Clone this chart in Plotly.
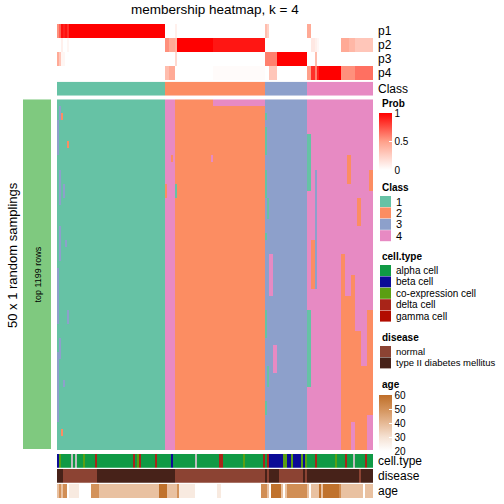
import plotly.graph_objects as go

W = H = 504
N = 158  # number of samples (columns)

# ---------------- data ----------------
class_runs = [(1, 54), (2, 50), (3, 21), (4, 33)]          # (class, n columns)

# membership probabilities as runs of (value, n columns)
p1_runs = [(0.55, 1), (0.7, 1), (0.95, 1), (0.9, 1), (0.95, 1), (0.85, 1), (1.0, 48),
           (0, 5), (0.08, 1), (0, 44),
           (0.35, 1), (0.25, 1), (0, 19),
           (0.45, 2), (0, 31)]
p2_runs = [(0, 2), (0.08, 1), (0, 2), (0.05, 1), (0, 48),
           (0.55, 2), (0.45, 3), (0.4, 1), (1.0, 18), (0.93, 26),
           (0, 21),
           (0, 2), (0.12, 2), (0.08, 1), (0.04, 1), (0, 11), (0.45, 4), (0.38, 3), (0.3, 9)]
p3_runs = [(0.45, 1), (0.3, 1), (0.05, 2), (0, 50),
           (0, 5), (0.2, 1), (0, 44),
           (0.6, 6), (1.0, 15),
           (0, 4), (0.35, 1), (0, 28)]
p4_runs = [(0, 54),
           (0.35, 2), (0.45, 3), (0, 19), (0.02, 26),
           (0, 2), (0.3, 4), (0, 15),
           (0.5, 2), (0.85, 2), (0.6, 1), (0.9, 1), (1.0, 11), (0.55, 7), (0.65, 9)]

# deviations of single samplings from the consensus class:
# (first col, last col, first row, last row, class)
deviations = [
    (0, 0, 3, 7, 3), (0, 0, 24, 26, 3), (0, 0, 27, 31, 3), (0, 0, 36, 45, 3),
    (1, 1, 1, 2, 3), (1, 1, 10, 14, 3), (1, 1, 18, 22, 3), (1, 1, 34, 36, 3),
    (2, 2, 2, 2, 2), (2, 2, 47, 47, 2), (3, 3, 12, 13, 3), (3, 3, 40, 40, 3),
    (4, 4, 20, 20, 3), (5, 5, 6, 6, 2), (5, 5, 30, 31, 3),
    (54, 58, 0, 49, 4), (78, 103, 0, 0, 4), (77, 77, 8, 8, 4),
    (57, 57, 8, 8, 2), (54, 54, 12, 13, 2), (59, 59, 12, 13, 1),
    (104, 104, 2, 2, 1), (104, 104, 4, 7, 1), (104, 104, 10, 13, 1), (104, 104, 19, 19, 1),
    (104, 104, 30, 33, 1), (104, 104, 43, 44, 1), (105, 105, 14, 16, 1), (105, 105, 38, 40, 1),
    (106, 107, 22, 27, 4), (108, 109, 35, 38, 4),
    (125, 126, 5, 12, 1), (125, 126, 30, 40, 1), (127, 128, 20, 26, 2), (129, 129, 10, 26, 3),
    (142, 143, 22, 49, 2), (144, 146, 28, 49, 2), (147, 148, 25, 45, 2),
    (149, 151, 33, 49, 2), (152, 154, 38, 49, 2), (155, 157, 30, 44, 2),
    (145, 146, 8, 11, 2), (150, 151, 14, 17, 2), (156, 157, 10, 12, 2),
]

# column annotations as runs (category/value, n columns)
celltype_names = ["alpha cell", "beta cell", "co-expression cell", "delta cell", "gamma cell", "NA"]
celltype_runs = [("beta cell", 1), ("co-expression cell", 1), ("alpha cell", 5), ("NA", 1),
                 ("alpha cell", 1), ("NA", 1), ("alpha cell", 3), ("co-expression cell", 1),
                 ("alpha cell", 5), ("delta cell", 1), ("alpha cell", 18), ("delta cell", 1),
                 ("alpha cell", 1), ("co-expression cell", 1), ("delta cell", 1),
                 ("alpha cell", 7), ("delta cell", 1), ("alpha cell", 7), ("beta cell", 1),
                 ("alpha cell", 11), ("NA", 1), ("alpha cell", 11), ("delta cell", 2),
                 ("alpha cell", 10), ("co-expression cell", 1), ("alpha cell", 9),
                 ("delta cell", 1), ("alpha cell", 1), ("delta cell", 1),
                 ("beta cell", 7), ("co-expression cell", 2), ("beta cell", 2),
                 ("co-expression cell", 1), ("beta cell", 4), ("co-expression cell", 1),
                 ("beta cell", 1), ("co-expression cell", 1), ("alpha cell", 4),
                 ("delta cell", 1), ("alpha cell", 9), ("co-expression cell", 1),
                 ("alpha cell", 4), ("delta cell", 1), ("alpha cell", 3), ("NA", 1),
                 ("alpha cell", 5), ("delta cell", 1), ("alpha cell", 3)]
disease_names = ["normal", "type II diabetes mellitus"]
disease_runs = [("type II diabetes mellitus", 3), ("normal", 17), ("type II diabetes mellitus", 39),
                ("normal", 45), ("type II diabetes mellitus", 1), ("normal", 1),
                ("type II diabetes mellitus", 5), ("normal", 12), ("type II diabetes mellitus", 1),
                ("normal", 1), ("type II diabetes mellitus", 26), ("normal", 1),
                ("type II diabetes mellitus", 6)]
age_runs = [(38, 1), (50, 1), (38, 1), (51, 2), (20, 1), (27, 5), (20, 6), (50, 4), (38, 30),
            (59, 4), (38, 5), (50, 1), (27, 8), (20, 11), (27, 2), (20, 20), (51, 3),
            (38, 1), (20, 1), (59, 5), (38, 1), (20, 1), (38, 1), (51, 10), (38, 1), (20, 1),
            (38, 4), (59, 1), (38, 1), (59, 8), (51, 1), (38, 11), (20, 1), (38, 6)]

row_labels = ["p1", "p2", "p3", "p4"]
class_labels = ["1", "2", "3", "4"]

# ---------------- colours ----------------
class_colors = ["#66C2A5", "#FC8D62", "#8DA0CB", "#E78AC3"]
celltype_colors = ["#109A45", "#0B0B96", "#5A9F12", "#A82418", "#B20C00", "#BEBEBE"]
disease_colors = ["#8C4333", "#472219"]
prob_scale = [[0, "#FFFFFF"], [0.5, "#FFA08A"], [1, "#FF0000"]]
age_scale = [[0, "#FFFFFF"], [0.25, "#F5E1D2"], [0.5, "#E6B995"], [0.75, "#D3925A"], [1, "#BE6E28"]]
FONT = "Liberation Sans, Arial, Helvetica, sans-serif"


def expand(runs):
    out = []
    for v, n in runs:
        out += [v] * n
    return out


def discrete_scale(colors):
    k = len(colors)
    sc = []
    for i, c in enumerate(colors):
        sc += [[i / k, c], [(i + 1) / k, c]]
    return sc


cls = expand(class_runs)
P = [expand(r) for r in (p1_runs, p2_runs, p3_runs, p4_runs)]
main = [[c for c in cls] for _ in range(50)]
for c0, c1, r0, r1, k in deviations:
    for r in range(r0, r1 + 1):
        for c in range(c0, c1 + 1):
            main[r][c] = k
ct = [celltype_names.index(v) for v in expand(celltype_runs)]
dz = [disease_names.index(v) for v in expand(disease_runs)]
ag = expand(age_runs)
xs = list(range(N))


def py(p):  # pixel y -> paper
    return 1 - p / H


def px(p):
    return p / W


X0, X1 = 57, 373
fig = go.Figure()

# probability rows
fig.add_trace(go.Heatmap(z=P, x=xs, y=[0, 1, 2, 3], colorscale=prob_scale, zmin=0, zmax=1,
                         xaxis="x", yaxis="y", hoverinfo="skip",
                         colorbar=dict(x=px(379), xanchor="left", y=py(113), yanchor="top",
                                       len=57, lenmode="pixels", thickness=13,
                                       thicknessmode="pixels", outlinewidth=0, xpad=0, ypad=0,
                                       tickvals=[0, 0.5, 1], ticktext=["0", "0.5", "1"],
                                       ticks="inside", ticklen=3, tickcolor="white",
                                       tickfont=dict(family=FONT, size=10, color="black"))))
# class row
fig.add_trace(go.Heatmap(z=[[c - 1 for c in cls]], x=xs, y=[0], colorscale=discrete_scale(class_colors),
                         zmin=-0.5, zmax=3.5, showscale=False, xaxis="x", yaxis="y2", hoverinfo="skip"))
# main membership matrix
fig.add_trace(go.Heatmap(z=[[c - 1 for c in row] for row in main], x=xs, y=list(range(50)),
                         colorscale=discrete_scale(class_colors), zmin=-0.5, zmax=3.5,
                         showscale=False, xaxis="x", yaxis="y3", hoverinfo="skip"))
# cell type
fig.add_trace(go.Heatmap(z=[ct], x=xs, y=[0], colorscale=discrete_scale(celltype_colors),
                         zmin=-0.5, zmax=len(celltype_colors) - 0.5, showscale=False,
                         xaxis="x", yaxis="y4", hoverinfo="skip"))
# disease
fig.add_trace(go.Heatmap(z=[dz], x=xs, y=[0], colorscale=discrete_scale(disease_colors),
                         zmin=-0.5, zmax=1.5, showscale=False, xaxis="x", yaxis="y5", hoverinfo="skip"))
# age
fig.add_trace(go.Heatmap(z=[ag], x=xs, y=[0], colorscale=age_scale, zmin=20, zmax=60,
                         xaxis="x", yaxis="y6", hoverinfo="skip",
                         colorbar=dict(x=px(379), xanchor="left", y=py(395), yanchor="top",
                                       len=56, lenmode="pixels", thickness=13,
                                       thicknessmode="pixels", outlinewidth=0, xpad=0, ypad=0,
                                       tickvals=[20, 30, 40, 50, 60], ticks="inside", ticklen=3,
                                       tickcolor="white",
                                       tickfont=dict(family=FONT, size=10, color="black"))))
# left row-slice bar
fig.add_trace(go.Heatmap(z=[[0]], x=[0], y=[0], colorscale=[[0, "#7FC97F"], [1, "#7FC97F"]],
                         showscale=False, xaxis="x2", yaxis="y7", hoverinfo="skip"))

ax = dict(visible=False, fixedrange=True)
lay = dict(
    width=W, height=H, margin=dict(l=0, r=0, t=0, b=0),
    paper_bgcolor="white", plot_bgcolor="rgba(0,0,0,0)", showlegend=False,
    xaxis=dict(ax, domain=[px(X0), px(X1)], range=[-0.5, N - 0.5]),
    xaxis2=dict(ax, domain=[px(23), px(51)], range=[-0.5, 0.5]),
    yaxis=dict(ax, domain=[py(80), py(24)], range=[3.5, -0.5]),
    yaxis2=dict(ax, domain=[py(95.7), py(81.7)], range=[0.5, -0.5]),
    yaxis3=dict(ax, domain=[py(450), py(99.3)], range=[49.5, -0.5]),
    yaxis4=dict(ax, domain=[py(467.7), py(454)], range=[0.5, -0.5]),
    yaxis5=dict(ax, domain=[py(482.8), py(469)], range=[0.5, -0.5]),
    yaxis6=dict(ax, domain=[py(498.3), py(484)], range=[0.5, -0.5]),
    yaxis7=dict(ax, domain=[py(449), py(99.3)], range=[-0.5, 0.5]),
)
fig.update_layout(**lay)

ann = []
def text(x, y, s, size=11, bold=False, xanchor="left", angle=0, color="black"):
    ann.append(dict(x=px(x), y=py(y), xref="paper", yref="paper", text=("<b>%s</b>" % s) if bold else s,
                    showarrow=False, xanchor=xanchor, yanchor="middle", textangle=angle,
                    font=dict(family=FONT, size=size, color=color)))

text(215, 9, "membership heatmap, k = 4", size=13.5, xanchor="center")
for i, lab in enumerate(row_labels):
    text(376, 31 + 14 * i, lab, size=12)
text(376, 89, "Class", size=12)
text(376, 461, "cell.type", size=12)
text(376, 476, "disease", size=12)
text(376, 491, "age", size=12)
text(12, 255, "50 x 1 random samplings", size=13, xanchor="center", angle=-90)
text(37.5, 275, "top 1199 rows", size=9, xanchor="center", angle=-90)

# legends
text(380, 103.5, "Prob", size=10, bold=True)
text(380, 187, "Class", size=10, bold=True)
text(380, 256, "cell.type", size=10, bold=True)
text(380, 337, "disease", size=10, bold=True)
text(380, 384.5, "age", size=10, bold=True)

shapes = []
def square(y0, color):
    shapes.append(dict(type="rect", xref="paper", yref="paper", x0=px(380), x1=px(391),
                       y0=py(y0 + 11), y1=py(y0), fillcolor=color, line=dict(width=0)))

for i, (lab, col) in enumerate(zip(class_labels, class_colors)):
    y0 = 196 + 11.4 * i
    square(y0, col)
    text(394, y0 + 5.5, lab, size=11)
for i, (lab, col) in enumerate(zip(celltype_names[:5], celltype_colors[:5])):
    y0 = 265 + 11.4 * i
    square(y0, col)
    text(394, y0 + 5.5, lab, size=10)
for i, (lab, col) in enumerate(zip(disease_names, disease_colors)):
    y0 = 346 + 11.4 * i
    square(y0, col)
    text(394, y0 + 5.5, lab, size=9.5)

fig.update_layout(annotations=ann, shapes=shapes)
fig.write_html("out.html", config={"displayModeBar": False, "staticPlot": True},
               post_script="document.body.style.margin='0';document.body.style.overflow='hidden';")
